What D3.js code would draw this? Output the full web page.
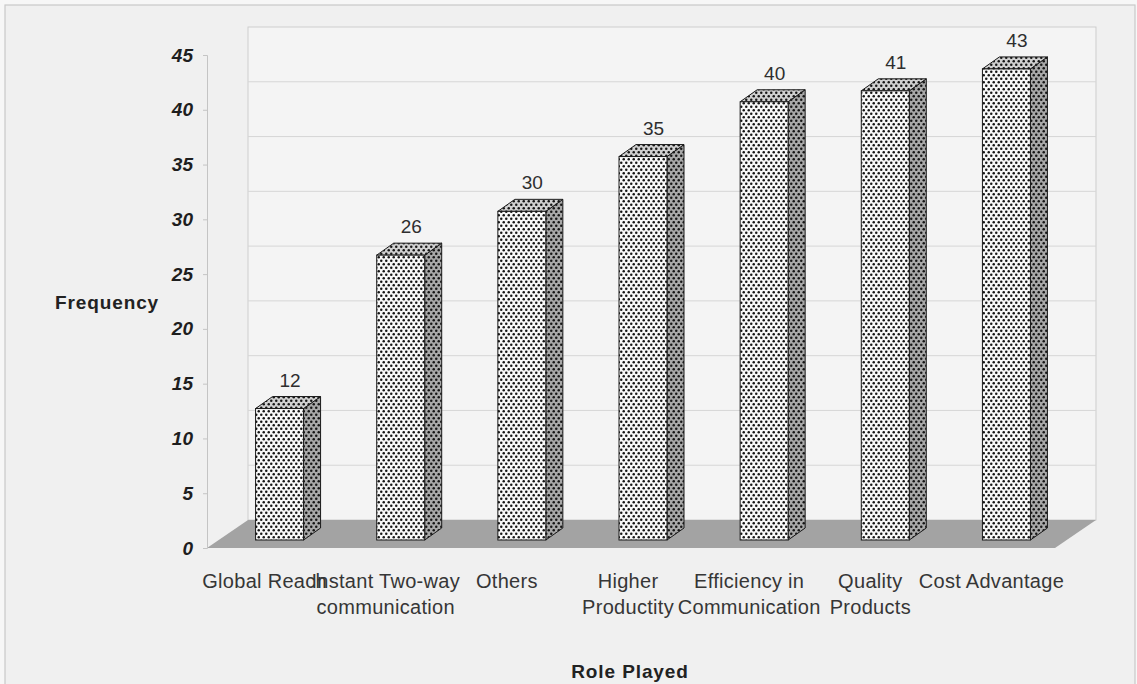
<!DOCTYPE html>
<html>
<head>
<meta charset="utf-8">
<script src="https://cdn.jsdelivr.net/npm/d3@7"></script>
<style>
  html, body { margin: 0; padding: 0; background: #f7f7f7; }
  svg { display: block; font-family: "Liberation Sans", Arial, sans-serif; }
</style>
</head>
<body>
<svg id="chart" width="1137" height="684"></svg>
<script>
// Role played — frequency of responses
const categories = [
  "Global Reach",
  "Instant Two-way communication",
  "Others",
  "Higher Productity",
  "Efficiency in Communication",
  "Quality Products",
  "Cost Advantage"
];
const categoryLines = [
  ["Global Reach"],
  ["Instant Two-way", "communication"],
  ["Others"],
  ["Higher", "Productity"],
  ["Efficiency in", "Communication"],
  ["Quality", "Products"],
  ["Cost Advantage"]
];
const frequency = [12, 26, 30, 35, 40, 41, 43];
const yTicks = [0, 5, 10, 15, 20, 25, 30, 35, 40, 45];
const yTitle = "Frequency";
const xTitle = "Role Played";

const svg = d3.select("#chart");

// oblique 3D geometry
const front = { x0: 207, x1: 1055 };
const depth = { dx: 41, dy: -28 };      // front plane -> back wall
const barShift = { dx: 12, dy: -8 };    // front plane -> bar front faces
const barDepth = { dx: 17, dy: -12 };   // thickness of each column

const y = d3.scaleLinear().domain([0, 45]).range([548, 55]);

const xFloor = d3.scaleBand().domain(categories).range([front.x0, front.x1]);
const step = (front.x1 - front.x0) / categories.length;
const pad = 1 - 48 / step;
const xBar = d3.scaleBand().domain(categories)
  .range([front.x0 + barShift.dx, front.x1 + barShift.dx])
  .paddingInner(pad).paddingOuter(pad / 2);

// patterns for the dotted column faces
const defs = svg.append("defs");
function dots(id, bg) {
  const p = defs.append("pattern").attr("id", id)
    .attr("patternUnits", "userSpaceOnUse")
    .attr("width", 5).attr("height", 7);
  p.append("rect").attr("width", 5).attr("height", 7).attr("fill", bg);
  p.append("circle").attr("cx", 1.25).attr("cy", 1.75).attr("r", 1.25).attr("fill", "#151515");
  p.append("circle").attr("cx", 3.75).attr("cy", 5.25).attr("r", 1.25).attr("fill", "#151515");
}
dots("dotsFront", "#f8f8f8");
dots("dotsSide", "#a8a8a8");
dots("dotsTop", "#d0d0d0");

// page and frame
svg.append("rect").attr("x", 5).attr("y", 5).attr("width", 1130).attr("height", 690)
  .attr("fill", "#f0f0f0").attr("stroke", "#c9c9c9").attr("stroke-width", 1.2);

// back wall
const wallX0 = front.x0 + depth.dx, wallX1 = front.x1 + depth.dx;
svg.append("rect")
  .attr("x", wallX0).attr("y", y(45) + depth.dy)
  .attr("width", wallX1 - wallX0).attr("height", y(0) - y(45))
  .attr("fill", "#f4f4f4").attr("stroke", "#cdcdcd").attr("stroke-width", 1);

svg.append("g").selectAll("line").data(yTicks.filter(d => d > 0 && d < 45)).join("line")
  .attr("x1", wallX0).attr("x2", wallX1)
  .attr("y1", d => y(d) + depth.dy).attr("y2", d => y(d) + depth.dy)
  .attr("stroke", "#d6d6d6").attr("stroke-width", 1);

// floor
svg.append("polygon")
  .attr("points", [
    [front.x0, y(0)], [front.x1, y(0)],
    [front.x1 + depth.dx, y(0) + depth.dy], [front.x0 + depth.dx, y(0) + depth.dy]
  ].join(" "))
  .attr("fill", "#a3a3a3");

// value axis
const yAxis = svg.append("g").attr("transform", `translate(${front.x0},0)`)
  .call(d3.axisLeft(y).tickValues(yTicks).tickSize(4).tickPadding(10));
yAxis.select(".domain").attr("stroke", "#c4c4c4");
yAxis.selectAll(".tick line").attr("stroke", "#c4c4c4");
yAxis.selectAll(".tick text")
  .attr("font-family", "'Liberation Sans', Arial, sans-serif")
  .attr("font-size", 19).attr("font-weight", "bold").attr("font-style", "italic")
  .attr("fill", "#1e1e1e");

// columns
const bars = svg.append("g").selectAll("g").data(categories).join("g");
bars.each(function (c, i) {
  const g = d3.select(this);
  const x = xBar(c), w = xBar.bandwidth();
  const bottom = y(0) + barShift.dy, top = y(frequency[i]) + barShift.dy;
  const dx = barDepth.dx, dy = barDepth.dy;
  g.append("polygon")
    .attr("points", [[x + w, top], [x + w + dx, top + dy], [x + w + dx, bottom + dy], [x + w, bottom]].join(" "))
    .attr("fill", "url(#dotsSide)").attr("stroke", "#1a1a1a").attr("stroke-width", 1);
  g.append("polygon")
    .attr("points", [[x, top], [x + dx, top + dy], [x + w + dx, top + dy], [x + w, top]].join(" "))
    .attr("fill", "url(#dotsTop)").attr("stroke", "#1a1a1a").attr("stroke-width", 1);
  g.append("rect")
    .attr("x", x).attr("y", top).attr("width", w).attr("height", bottom - top)
    .attr("fill", "url(#dotsFront)").attr("stroke", "#1a1a1a").attr("stroke-width", 1);
  g.append("text")
    .attr("x", x + w / 2 + dx / 2 + 2).attr("y", top + dy - 10)
    .attr("text-anchor", "middle").attr("font-size", 19).attr("fill", "#2e2e2e")
    .text(frequency[i]);
});

// category labels
const catText = svg.append("g").selectAll("text").data(categories).join("text")
  .attr("text-anchor", "middle").attr("font-size", 20).attr("letter-spacing", 0.3)
  .attr("fill", "#363636")
  .attr("transform", c => `translate(${xFloor(c) + xFloor.bandwidth() / 2 - 3},588)`);
catText.selectAll("tspan").data((c, i) => categoryLines[i]).join("tspan")
  .attr("x", 0).attr("dy", (d, j) => j === 0 ? 0 : 26).text(d => d);

// axis titles
svg.append("text").attr("x", 107).attr("y", 309).attr("text-anchor", "middle")
  .attr("font-size", 19).attr("font-weight", "bold").attr("letter-spacing", 0.9)
  .attr("fill", "#222").text(yTitle);
svg.append("text").attr("x", 630).attr("y", 678).attr("text-anchor", "middle")
  .attr("font-size", 19).attr("font-weight", "bold").attr("letter-spacing", 0.9)
  .attr("fill", "#222").text(xTitle);
</script>
</body>
</html>
